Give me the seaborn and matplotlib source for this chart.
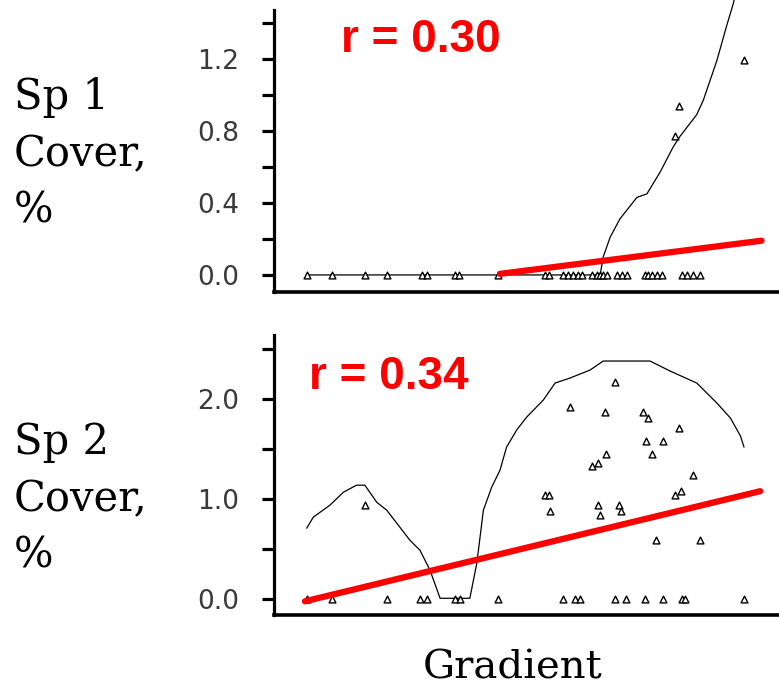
import numpy as np
import pandas as pd
import matplotlib
matplotlib.use("Agg")
import matplotlib.pyplot as plt
import seaborn as sns

# ---------------- data ----------------
# Species 1 (top panel)
sp1_x = [0, 5.7, 13.3, 18.4, 26.3, 27.4, 33.9, 34.9, 43.8, 54.5, 55.3, 58.7, 59.8,
         61.0, 62.1, 62.9, 65.2, 66.3, 67.1, 67.8, 68.6, 70.9, 72.0, 73.2, 77.4,
         78.1, 78.9, 80.0, 81.2, 85.8, 86.9, 88.4, 89.9, 85.2, 84.2, 100.0]
sp1_y = [0] * 33 + [0.94, 0.77, 1.19]

# Species 2 (bottom panel)
sp2_x = [0, 5.7, 18.4, 25.9, 27.4, 33.9, 35.1, 43.8, 58.7, 61.4, 62.5, 70.5, 73.0,
         77.4, 81.4, 85.8, 86.5, 100.0,
         13.3, 54.5, 55.3, 55.6, 60.2, 65.2, 66.5, 66.5, 67.1, 68.1, 68.4, 70.5,
         71.3, 71.9, 77.0, 78.0, 77.5, 78.9, 81.4, 79.9, 85.2, 84.2, 85.6, 88.4, 89.9]
sp2_y = [0] * 18 + [0.94, 1.04, 1.04, 0.88, 1.92, 1.33, 1.36, 0.94, 0.84, 1.87, 1.45,
                    2.17, 0.94, 0.88, 1.87, 1.81, 1.58, 1.45, 1.58, 0.59, 1.71, 1.04,
                    1.08, 1.24, 0.59]

# smoothed response curves
curve1_x = [0, 67.1, 67.8, 69.4, 71.6, 75.5, 77.8, 80.8, 83.8, 85.4, 89.2, 90.7,
            93.8, 96.0, 97.6, 98.0]
curve1_y = [0, 0, 0.10, 0.21, 0.31, 0.43, 0.45, 0.57, 0.71, 0.77, 0.89, 0.97,
            1.19, 1.38, 1.51, 1.56]
curve2_x = [0, 1.5, 5.3, 8.4, 11.4, 13.3, 16.0, 18.3, 20.6, 23.6, 25.9, 28.2, 30.5,
            37.3, 38.9, 40.4, 42.3, 44.2, 45.7, 48.0, 50.3, 54.1, 56.8, 60.2, 64.8,
            67.8, 78.5, 83.1, 89.2, 93.8, 96.9, 99.2, 100.0]
curve2_y = [0.71, 0.82, 0.94, 1.07, 1.14, 1.14, 0.97, 0.89, 0.76, 0.59, 0.49, 0.29,
            0.01, 0.01, 0.36, 0.89, 1.12, 1.29, 1.52, 1.69, 1.82, 1.99, 2.16, 2.21,
            2.29, 2.38, 2.38, 2.28, 2.16, 1.96, 1.81, 1.63, 1.52]

# linear regression lines (end points)
reg1_x = [44.2, 104.0]
reg1_y = [0.006, 0.19]
reg2_x = [-0.4, 103.7]
reg2_y = [-0.02, 1.08]

r_labels = ["r = 0.30", "r = 0.34"]
panel_labels = ["Sp 1\nCover,\n%", "Sp 2\nCover,\n%"]
yticks1 = [0.0, 0.4, 0.8, 1.2]
yticks2 = [0.0, 1.0, 2.0]
xlabel = "Gradient"

# ---------------- figure ----------------
sns.set_style("ticks")
plt.rcParams["font.family"] = ["DejaVu Sans"]
plt.rcParams["axes.edgecolor"] = "black"
plt.rcParams["text.color"] = "black"
plt.rcParams["ytick.color"] = "black"

W, H = 779, 690
fig = plt.figure(figsize=(W / 100, H / 100), dpi=100)

def px_box(left, top, right, bottom):
    return [left / W, 1 - bottom / H, (right - left) / W, (bottom - top) / H]

ax1 = fig.add_axes(px_box(274, 10, 779, 291.7))
ax2 = fig.add_axes(px_box(274, 335, 779, 615))

panels = [
    (ax1, sp1_x, sp1_y, curve1_x, curve1_y, reg1_x, reg1_y, (-0.093, 1.47),
     yticks1, np.arange(0, 1.5, 0.2)),
    (ax2, sp2_x, sp2_y, curve2_x, curve2_y, reg2_x, reg2_y, (-0.157, 2.64),
     yticks2, np.arange(0, 2.6, 0.5)),
]

for ax, sx, sy, cx, cy, rx, ry, ylim, yt, yall in panels:
    df = pd.DataFrame({"x": sx, "y": sy})
    sns.scatterplot(data=df, x="x", y="y", ax=ax, marker="^", s=24,
                    facecolor="white", edgecolor="black", linewidth=1.0,
                    zorder=3, legend=False)
    dc = pd.DataFrame({"x": cx, "y": cy})
    sns.lineplot(data=dc, x="x", y="y", ax=ax, sort=False, estimator=None,
                 color="black", linewidth=0.9, zorder=2)
    dr = pd.DataFrame({"x": rx, "y": ry})
    sns.lineplot(data=dr, x="x", y="y", ax=ax, sort=False, estimator=None,
                 color="#ff0000", linewidth=4.5, zorder=4)
    ax.set_xlim(-7.48, 108.0)
    ax.set_ylim(*ylim)
    ax.set_yticks(yall)
    ax.set_yticklabels(["%.1f" % v if any(abs(v - t) < 1e-6 for t in yt) else ""
                        for v in yall])
    ax.set_xticks([])
    ax.set_xlabel("")
    ax.set_ylabel("")
    for s in ["top", "right"]:
        ax.spines[s].set_visible(False)
    ax.spines["left"].set_linewidth(2.3)
    ax.spines["bottom"].set_linewidth(2.6)
    ax.tick_params(axis="y", direction="out", length=9, width=2.3, pad=16,
                   labelsize=19, labelcolor="#3a3a3a", color="black")
    ax.set_facecolor("white")

# the species-1 curve runs above the axes
for line in ax1.get_lines():
    line.set_clip_on(False)

fig.text(341 / W, 1 - 40 / H, r_labels[0], color="#ff0000", fontsize=33,
         fontweight="bold", family="Liberation Sans", va="center", ha="left")
fig.text(309 / W, 1 - 377 / H, r_labels[1], color="#ff0000", fontsize=33,
         fontweight="bold", family="Liberation Sans", va="center", ha="left")

fig.text(14 / W, 1 - 154 / H, panel_labels[0], fontsize=30,
         family="DejaVu Serif", va="center", ha="left", linespacing=1.45)
fig.text(14 / W, 1 - 499 / H, panel_labels[1], fontsize=30,
         family="DejaVu Serif", va="center", ha="left", linespacing=1.45)
fig.text(513 / W, 1 - 668 / H, xlabel, fontsize=29,
         family="DejaVu Serif", va="center", ha="center")

fig.savefig("out.png", dpi=100, facecolor="white")
